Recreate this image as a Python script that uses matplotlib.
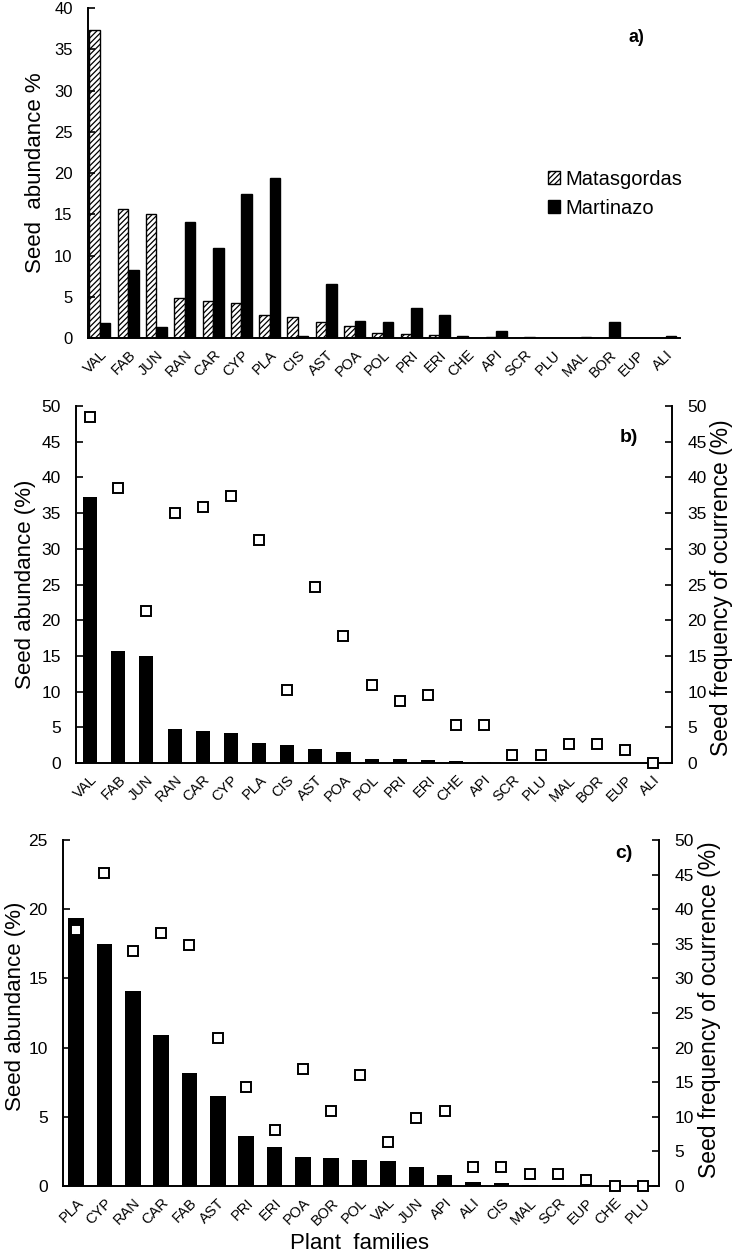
import numpy as np
import matplotlib
matplotlib.use("Agg")
from matplotlib import pyplot as plt

plt.rcParams['font.family'] = ['Liberation Sans', 'DejaVu Sans']
plt.rcParams['hatch.linewidth'] = 0.9

# panel a) both sites, sorted by Matasgordas
fam_a = ["VAL", "FAB", "JUN", "RAN", "CAR", "CYP", "PLA", "CIS", "AST", "POA", "POL",
         "PRI", "ERI", "CHE", "API", "SCR", "PLU", "MAL", "BOR", "EUP", "ALI"]
matas = [37.3, 15.7, 15.0, 4.8, 4.5, 4.2, 2.8, 2.5, 1.9, 1.5, 0.6,
         0.5, 0.4, 0.3, 0.1, 0.05, 0.05, 0.03, 0.02, 0.02, 0.0]
martin_a = [1.8, 8.2, 1.4, 14.1, 10.9, 17.5, 19.4, 0.2, 6.5, 2.1, 1.9,
            3.6, 2.8, 0.0, 0.8, 0.1, 0.05, 0.1, 2.0, 0.05, 0.3]

# panel b) Matasgordas abundance + frequency
freq_b = [48.5, 38.5, 21.3, 35.0, 35.8, 37.4, 31.3, 10.2, 24.6, 17.8, 11.0,
          8.7, 9.5, 5.4, 5.4, 1.1, 1.1, 2.7, 2.7, 1.8, 0.0]

# panel c) Martinazo abundance + frequency
fam_c = ["PLA", "CYP", "RAN", "CAR", "FAB", "AST", "PRI", "ERI", "POA", "BOR", "POL",
         "VAL", "JUN", "API", "ALI", "CIS", "MAL", "SCR", "EUP", "CHE", "PLU"]
martin_c = [19.4, 17.5, 14.1, 10.9, 8.2, 6.5, 3.6, 2.8, 2.1, 2.0, 1.9,
            1.8, 1.4, 0.8, 0.3, 0.2, 0.1, 0.1, 0.05, 0.0, 0.0]
freq_c = [37.0, 45.3, 34.0, 36.5, 34.8, 21.4, 14.3, 8.1, 16.9, 10.8, 16.0,
          6.4, 9.9, 10.8, 2.8, 2.8, 1.8, 1.8, 0.9, 0.0, 0.0]

fig = plt.figure(figsize=(7.38, 12.6), dpi=100)

def style_ax(ax, ysize):
    for s in ["top", "right"]:
        ax.spines[s].set_visible(False)
    for s in ["left", "bottom"]:
        ax.spines[s].set_linewidth(1.4)
    ax.tick_params(axis="x", length=0, pad=7)
    ax.tick_params(axis="y", direction="in", length=5, width=1.2, pad=11, labelsize=ysize)

def right_axis(ax, vals, x):
    ax2 = ax.twinx()
    ax2.plot(x, vals, "s", ms=7.5, mfc="white", mec="black", mew=1.4, clip_on=False)
    ax2.set_ylim(0, 50)
    ax2.set_yticks(range(0, 51, 5))
    for s in ["top", "left", "bottom"]:
        ax2.spines[s].set_visible(False)
    ax2.spines["right"].set_linewidth(1.4)
    ax2.tick_params(axis="y", direction="in", length=5, width=1.2, labelsize=12.5, pad=11)
    ax2.set_ylabel("Seed frequency of ocurrence (%)", fontsize=16.5)
    return ax2

# ---- a)
ax = fig.add_axes([0.1192, 0.7317, 0.8022, 0.2619])
x = np.arange(len(fam_a))
w = 0.37
ax.bar(x - w / 2, matas, w, color="white", edgecolor="black", hatch="//////",
       linewidth=1.0, label="Matasgordas")
ax.bar(x + w / 2, martin_a, w, color="black", edgecolor="black", linewidth=1.0,
       label="Martinazo")
ax.set_xlim(-0.42, 20.5)
ax.set_ylim(0, 40)
ax.set_yticks(range(0, 41, 5))
ax.set_xticks(x)
ax.set_xticklabels(fam_a, rotation=45, ha="right", rotation_mode="anchor", fontsize=10.5)
style_ax(ax, 12)
ax.set_ylabel("Seed  abundance %", fontsize=16)
ax.yaxis.set_label_coords(-0.071, 0.5)
ax.text(0.927, 0.912, "a)", transform=ax.transAxes, fontsize=13, fontweight="bold",
        ha="center", va="center")
ax.legend(loc="upper left", bbox_to_anchor=(0.764, 0.535), frameon=False, fontsize=14.5,
          handlelength=0.6, handleheight=0.6, handletextpad=0.25, labelspacing=0.5,
          borderaxespad=0)

# ---- b)
ax = fig.add_axes([0.1030, 0.3944, 0.8076, 0.2833])
x = np.arange(len(fam_a))
ax.bar(x, matas, 0.5, color="black")
ax.set_xlim(-0.5, 20.67)
ax.set_ylim(0, 50)
ax.set_yticks(range(0, 51, 5))
ax.set_xticks(x)
ax.set_xticklabels(fam_a, rotation=45, ha="right", rotation_mode="anchor", fontsize=10.5)
style_ax(ax, 12.5)
ax.set_ylabel("Seed abundance (%)", fontsize=16)
ax.yaxis.set_label_coords(-0.067, 0.5)
ax2 = right_axis(ax, freq_b, x)
ax2.yaxis.set_label_coords(1.064, 0.49)
ax.text(0.928, 0.913, "b)", transform=ax.transAxes, fontsize=14, fontweight="bold",
        ha="center", va="center")

# ---- c)
ax = fig.add_axes([0.0854, 0.0587, 0.8076, 0.2746])
x = np.arange(len(fam_c))
ax.bar(x, martin_c, 0.55, color="black")
ax.set_xlim(-0.46, 20.56)
ax.set_ylim(0, 25)
ax.set_yticks(range(0, 26, 5))
ax.set_xticks(x)
ax.set_xticklabels(fam_c, rotation=45, ha="right", rotation_mode="anchor", fontsize=10.5)
style_ax(ax, 12.5)
ax.set_ylabel("Seed abundance (%)", fontsize=16)
ax.yaxis.set_label_coords(-0.062, 0.52)
ax.set_xlabel("Plant  families", fontsize=16)
ax.xaxis.set_label_coords(0.497, -0.137)
ax2 = right_axis(ax, freq_c, x)
ax2.yaxis.set_label_coords(1.065, 0.51)
ax.text(0.941, 0.962, "c)", transform=ax.transAxes, fontsize=14, fontweight="bold",
        ha="center", va="center")

fig.savefig("out.png", dpi=100)
